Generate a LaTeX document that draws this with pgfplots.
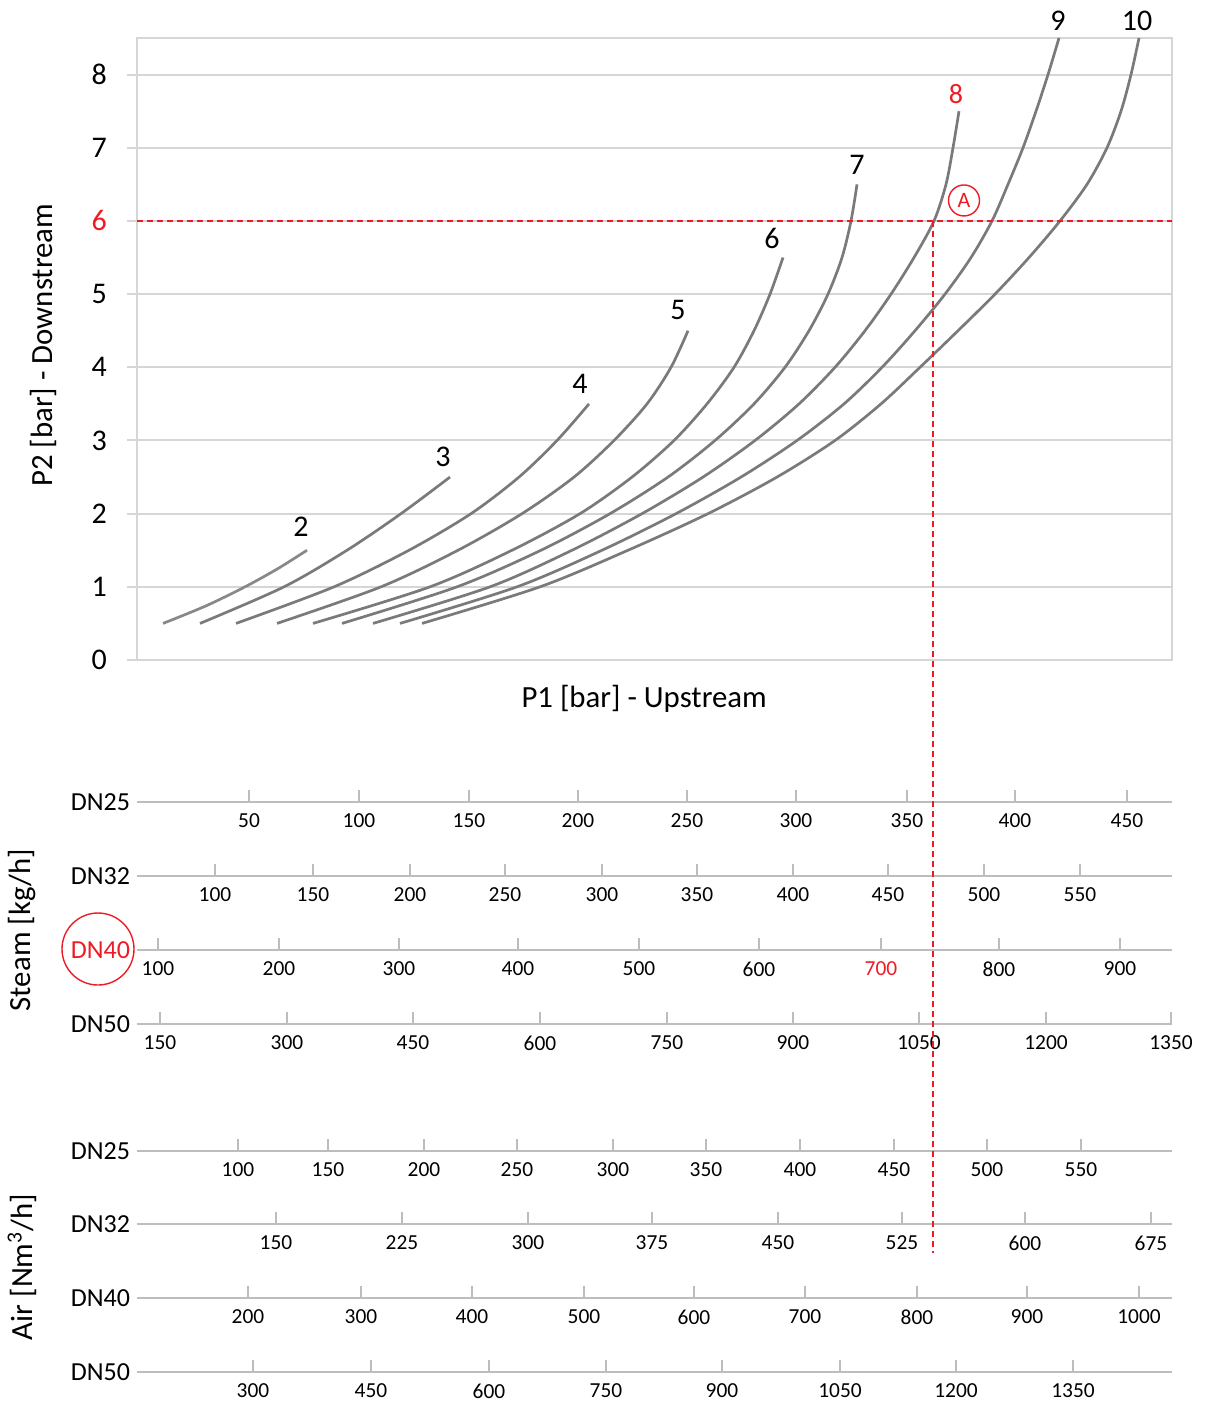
\documentclass[border=0pt]{standalone}
\usepackage{pgfplots}
\pgfplotsset{compat=1.18}
\usepackage{fontspec}
\setmainfont{Carlito}
\definecolor{curvegrey}{HTML}{7A7A7A}
\definecolor{curvegreyl}{HTML}{888888}
\definecolor{gridgrey}{HTML}{D6D6D6}
\definecolor{scalegrey}{HTML}{BDBDBD}
\definecolor{myred}{HTML}{ED1C24}
\pgfplotsset{
 scaleax/.style={
  scale only axis, width=517.5pt, height=10pt, anchor=south west,
  xmin=137, xmax=1172, ymin=0, ymax=1,
  axis x line*=bottom, axis y line=none,
  x axis line style={scalegrey, line width=1pt},
  tick align=inside, major tick length=6pt,
  tick style={scalegrey, line width=1pt},
  xticklabel style={font=\fontsize{10.7}{10.7}\selectfont, text=black, yshift=-2.3pt},
  clip=false,
 },
 crv/.style={curvegrey, line width=1.35pt, smooth, no markers},
}
\tikzset{
 dnlab/.style={anchor=east, font=\fontsize{13}{13}\selectfont},
 clab/.style={font=\fontsize{15}{15}\selectfont},
}
\begin{document}
\begin{tikzpicture}
\useasboundingbox (0,0) rectangle (604pt,-702.5pt);
% ---------------- Steam scales ----------------
\begin{axis}[scaleax, at={(68.5pt,-401pt)},
  xtick={249,359,469,578,687,796,907,1015,1127},
  xticklabels={50,100,150,200,250,300,350,400,450}]
  \node[dnlab] at (axis cs:137,0) {DN25};
\end{axis}
\begin{axis}[scaleax, at={(68.5pt,-438pt)},
  xtick={215,313,410,505,602,697,793,888,984,1080},
  xticklabels={100,150,200,250,300,350,400,450,500,550}]
  \node[dnlab] at (axis cs:137,0) {DN32};
\end{axis}
\begin{axis}[scaleax, at={(68.5pt,-475pt)},
  xtick={158,279,399,518,639,759,881,999,1120},
  xticklabels={100,200,300,400,500,600,\textcolor{myred}{700},800,900}]
  \node[dnlab, text=myred] at (axis cs:137,0) {DN40};
  \draw[myred, line width=0.7pt] (axis cs:98,0.05) circle[radius=18pt];
  \node[rotate=90, font=\fontsize{15.4}{15.4}\selectfont] at (axis cs:22,1.0) {Steam [kg/h]};
\end{axis}
\begin{axis}[scaleax, at={(68.5pt,-512pt)},
  xtick={160,287,413,540,667,793,919,1046,1171},
  xticklabels={150,300,450,600,750,900,1050,1200,1350}]
  \node[dnlab] at (axis cs:137,0) {DN50};
\end{axis}
% ---------------- Air scales ----------------
\begin{axis}[scaleax, at={(68.5pt,-575.5pt)},
  xtick={238,328,424,517,613,706,800,894,987,1081},
  xticklabels={100,150,200,250,300,350,400,450,500,550}]
  \node[dnlab] at (axis cs:137,0) {DN25};
\end{axis}
\begin{axis}[scaleax, at={(68.5pt,-612pt)},
  xtick={276,402,528,652,778,902,1025,1151},
  xticklabels={150,225,300,375,450,525,600,675}]
  \node[dnlab] at (axis cs:137,0) {DN32};
\end{axis}
\begin{axis}[scaleax, at={(68.5pt,-649pt)},
  xtick={248,361,472,584,694,805,917,1027,1139},
  xticklabels={200,300,400,500,600,700,800,900,1000}]
  \node[dnlab] at (axis cs:137,0) {DN40};
  \node[rotate=90, font=\fontsize{15.4}{15.4}\selectfont] at (axis cs:22,1.55) {Air [Nm\textsuperscript{3}/h]};
\end{axis}
\begin{axis}[scaleax, at={(68.5pt,-686pt)},
  xtick={253,371,489,606,722,840,956,1073},
  xticklabels={300,450,600,750,900,1050,1200,1350}]
  \node[dnlab] at (axis cs:137,0) {DN50};
\end{axis}
% ---------------- Main chart ----------------
\begin{axis}[scale only axis, width=517.5pt, height=311pt, anchor=south west, at={(68.5pt,-330pt)},
  xmin=137, xmax=1172, ymin=0, ymax=8.5,
  xtick=\empty, ytick={0,1,2,3,4,5,6,7,8},
  yticklabels={0,1,2,3,4,5,\textcolor{myred}{6},7,8},
  ymajorgrids, grid style={gridgrey, line width=1pt},
  axis line style={gridgrey, line width=1pt},
  tick align=outside, ytick pos=left, major tick length=5pt,
  tick style={gridgrey, line width=1pt},
  yticklabel style={font=\fontsize{15}{15}\selectfont, xshift=-6.5pt},
  clip=false]
  \addplot[crv, curvegreyl] coordinates {(163,0.5) (206,0.74) (245,1.0) (278,1.25) (307,1.5)};
  \addplot[crv] coordinates {(200,0.5) (284,1.0) (347,1.5) (401,2.0) (450,2.5)};
  \addplot[crv] coordinates {(236,0.5) (334,1.0) (409,1.5) (471,2.0) (519,2.5) (557,3.0) (589,3.5)};
  \addplot[crv] coordinates {(277,0.5) (381,1.0) (458,1.5) (522,2.0) (574,2.5) (614,3.0) (647,3.5) (671,4.0) (688,4.5)};
  \addplot[crv] coordinates {(313,0.5) (430,1.0) (512,1.5) (580,2.0) (632,2.5) (674,3.0) (707,3.5) (734,4.0) (754,4.5) (770,5.0) (783,5.5)};
  \addplot[crv] coordinates {(342,0.5) (457,1.0) (541,1.5) (610,2.0) (668,2.5) (715,3.0) (754,3.5) (785,4.0) (809,4.5) (828,5.0) (842,5.5) (851,6.0) (857,6.5)};
  \addplot[crv] coordinates {(373,0.5) (490,1.0) (572,1.5) (642,2.0) (703,2.5) (755,3.0) (799,3.5) (835,4.0) (865,4.5) (891,5.0) (914,5.5) (934,6.0) (946,6.5) (953,7.0) (959,7.5)};
  \addplot[crv] coordinates {(400,0.5) (517,1.0) (602,1.5) (676,2.0) (741,2.5) (797,3.0) (844,3.5) (882,4.0) (915,4.5) (945,5.0) (971,5.5) (992,6.0) (1008,6.5) (1023,7.0) (1036,7.5) (1048,8.0) (1059,8.5)};
  \addplot[crv] coordinates {(422,0.5) (540,1.0) (628,1.5) (708,2.0) (777,2.5) (835,3.0) (881,3.5) (920,4.0) (958,4.5) (995,5.0) (1029,5.5) (1060,6.0) (1087,6.5) (1107,7.0) (1121,7.5) (1131,8.0) (1139,8.5)};
  % guide lines
  \addplot[myred, line width=0.75pt, dash pattern=on 3pt off 2pt] coordinates {(137,6) (1172,6)};
  \addplot[myred, line width=0.75pt, dash pattern=on 3pt off 2pt] coordinates {(933,6) (933,-8.11)};
  % curve labels
  \node[clab] at (axis cs:301,1.82) {2};
  \node[clab] at (axis cs:443,2.77) {3};
  \node[clab] at (axis cs:580,3.77) {4};
  \node[clab] at (axis cs:678,4.78) {5};
  \node[clab] at (axis cs:772,5.76) {6};
  \node[clab] at (axis cs:857,6.76) {7};
  \node[font=\fontsize{14}{14}\selectfont, text=myred] at (axis cs:956,7.73) {8};
  \node[clab] at (axis cs:1058,8.74) {9};
  \node[clab] at (axis cs:1137,8.74) {10};
  \node[draw=myred, circle, line width=0.7pt, inner sep=0pt, minimum size=15.5pt, text=myred, font=\fontsize{11}{11}\selectfont] at (axis cs:964,6.28) {A};
  \node[font=\fontsize{15.4}{15.4}\selectfont] at (rel axis cs:0.49,-0.0627) {P1 [bar] - Upstream};
  \node[rotate=90, font=\fontsize{15.4}{15.4}\selectfont] at (rel axis cs:-0.0899,0.506) {P2 [bar] - Downstream};
\end{axis}
\end{tikzpicture}
\end{document}
